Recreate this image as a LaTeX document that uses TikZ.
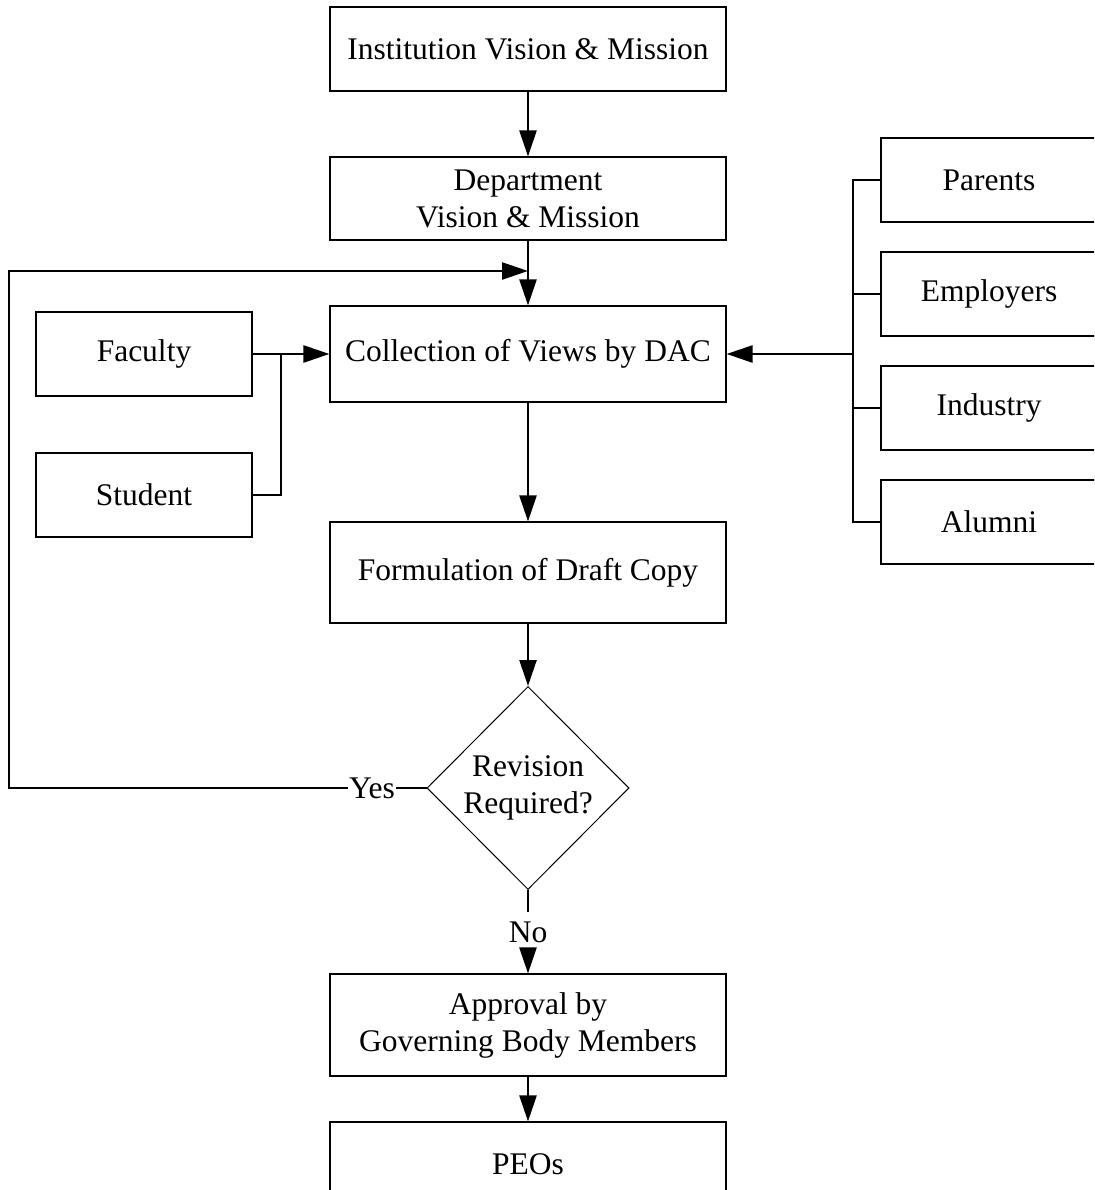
\documentclass[tikz,border=0pt]{standalone}
\usepackage{fontspec}
\setmainfont{Liberation Serif}
\usetikzlibrary{arrows.meta,shapes.geometric}
\begin{document}
\begin{tikzpicture}[x=1pt,y=-1pt,
  txt/.style={font=\fontsize{31.5}{37}\selectfont},
  box/.style={draw,line width=1.1pt,inner sep=0pt,align=center,txt},
  conn/.style={line width=2.4pt},
  arr/.style={conn,-{Triangle[length=26pt,width=17pt]}},
  lbl/.style={inner sep=0pt,txt,align=center}]
\useasboundingbox (0,0) rectangle (1094,1190);
\clip (0,0) rectangle (1094,1190);
% main column
\node[box,minimum width=396pt,minimum height=84pt] (inst) at (528,49) {Institution Vision \& Mission};
\node[box,minimum width=396pt,minimum height=83pt] (dept) at (528,198.5) {Department\\Vision \& Mission};
\node[box,minimum width=396pt,minimum height=96pt] (coll) at (528,354) {Collection of Views by DAC};
\node[box,minimum width=396pt,minimum height=101pt] (form) at (528,572.5) {Formulation of Draft Copy};
\node[draw,diamond,line width=1pt,inner sep=0pt,minimum width=202pt,minimum height=203pt] (dia) at (528,788) {};
\node[lbl] (diatext) at (dia.center) {Revision\\Required?};
\node[box,minimum width=396pt,minimum height=102pt] (appr) at (528,1025) {Approval by\\Governing Body Members};
\node[box,minimum width=396pt,minimum height=84pt] (peo) at (528,1164) {PEOs};
% left boxes
\node[box,minimum width=216pt,minimum height=84pt] (fac) at (144,354) {Faculty};
\node[box,minimum width=216pt,minimum height=84pt] (stu) at (144,495) {Student};
% right boxes
\node[box,minimum width=216pt,minimum height=84pt] (par) at (989,180) {Parents};
\node[box,minimum width=216pt,minimum height=84pt] (emp) at (989,294) {Employers};
\node[box,minimum width=216pt,minimum height=84pt] (ind) at (989,408) {Industry};
\node[box,minimum width=216pt,minimum height=84pt] (alu) at (989,522) {Alumni};
% labels
\node[lbl,inner xsep=1pt] (yes) at (372,788) {Yes};
\node[lbl,inner ysep=10pt] (no) at (528,932.5) {No};
% coordinates
\coordinate (j) at (281,354);
\coordinate (bus) at (853,354);
\coordinate (fb) at (528,271);
\coordinate (lft) at (9,788);
% connectors
\draw[arr] (inst) -- (dept);
\draw[arr] (dept) -- (coll);
\draw[arr] (coll) -- (form);
\draw[arr] (form) -- (dia.north);
\draw[conn] (dia.south) -- (no.north);
\draw[arr] (no.south) -- (appr.north);
\draw[arr] (appr) -- (peo);
\draw[arr] (fac.east) -- (coll.west);
\draw[conn] (stu.east) -| (j);
\draw[arr] (bus) -- (coll.east);
\draw[conn] (par.west) -- (par.west -| bus) -- (alu.west -| bus) -- (alu.west);
\draw[conn] (emp.west) -- (emp.west -| bus);
\draw[conn] (ind.west) -- (ind.west -| bus);
\draw[conn] (dia.west) -- (yes.east);
\draw[arr] (yes.west) -- (lft) |- (fb);
\end{tikzpicture}
\end{document}
